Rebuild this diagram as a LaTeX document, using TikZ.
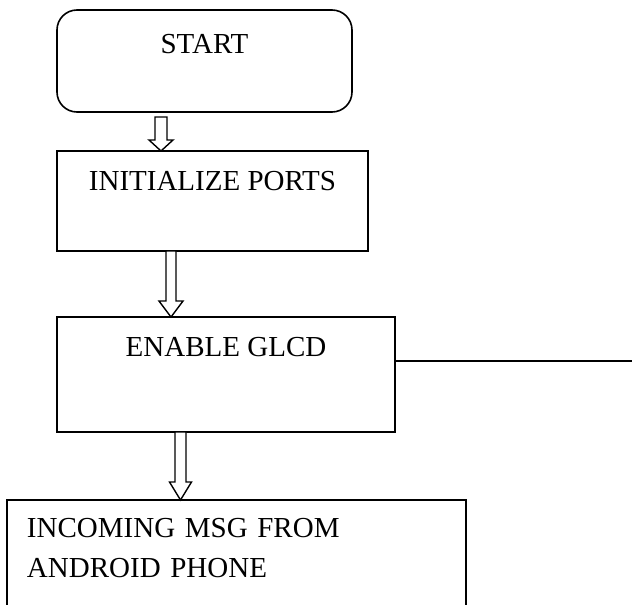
\documentclass[tikz,border=0pt]{standalone}
\usepackage{fontspec}
\setmainfont{Liberation Serif}
\usetikzlibrary{calc}

% hollow block arrow: #1 shaft top (centre), #2 tip, #3 shaft half width,
% #4 head half width, #5 head length
\newcommand\flowarrow[5]{%
  \draw[arrowline] let \p1=(#1), \p2=(#2) in
    (\x1-#3,\y1) -- (\x1-#3,\y2+#5) -- (\x1-#4,\y2+#5) -- (\x1,\y2)
    -- (\x1+#4,\y2+#5) -- (\x1+#3,\y2+#5) -- (\x1+#3,\y1) -- cycle;}

\tikzset{
  flowbox/.style={draw, line width=1.6pt, inner xsep=0pt, inner ysep=0pt,
    outer sep=0pt, anchor=north west, font=\fontsize{29}{40}\selectfont},
  arrowline/.style={draw, fill=white, line width=1.4pt, line join=miter},
  tapline/.style={line width=1.4pt},
}

\begin{document}
\begin{tikzpicture}[x=1pt, y=-1pt]
  \useasboundingbox (0,0) rectangle (632,605);
  \fill[white] (0,0) rectangle (632,605);

  % process boxes, text set near the top edge
  \node[flowbox, rounded corners=20pt, minimum width=295pt,
        text height=43pt, text depth=59pt] (start) at (57,10) {START};
  \node[flowbox, minimum width=311pt,
        text height=39pt, text depth=61pt] (init) at (57,151) {INITIALIZE PORTS};
  \node[flowbox, minimum width=338pt,
        text height=39pt, text depth=76pt] (glcd) at (57,317) {ENABLE GLCD};
  \node[flowbox, inner xsep=20pt, text width=419pt, align=left] (msg) at (7,500)
    {\rule{0pt}{37pt}INCOMING MSG FROM\\ANDROID PHONE\rule[-90pt]{0pt}{0pt}};

  % block arrows between the boxes
  \coordinate (a1) at ($(start.south)+(-43.5,5)$);
  \flowarrow{a1}{init.north -| a1}{6pt}{12pt}{11pt}
  \coordinate (a2) at ($(init.south)+(-41.5,0)$);
  \flowarrow{a2}{glcd.north -| a2}{5pt}{12pt}{16pt}
  \coordinate (a3) at ($(glcd.south)+(-45.5,0)$);
  \flowarrow{a3}{msg.north -| a3}{5.5pt}{11pt}{18pt}

  % branch leaving the GLCD box to the right
  \coordinate (tap) at ($(glcd.east)+(0,-13.5)$);
  \coordinate (tapend) at (634,361);
  \draw[tapline] (tap) -- (tapend);
\end{tikzpicture}
\end{document}
